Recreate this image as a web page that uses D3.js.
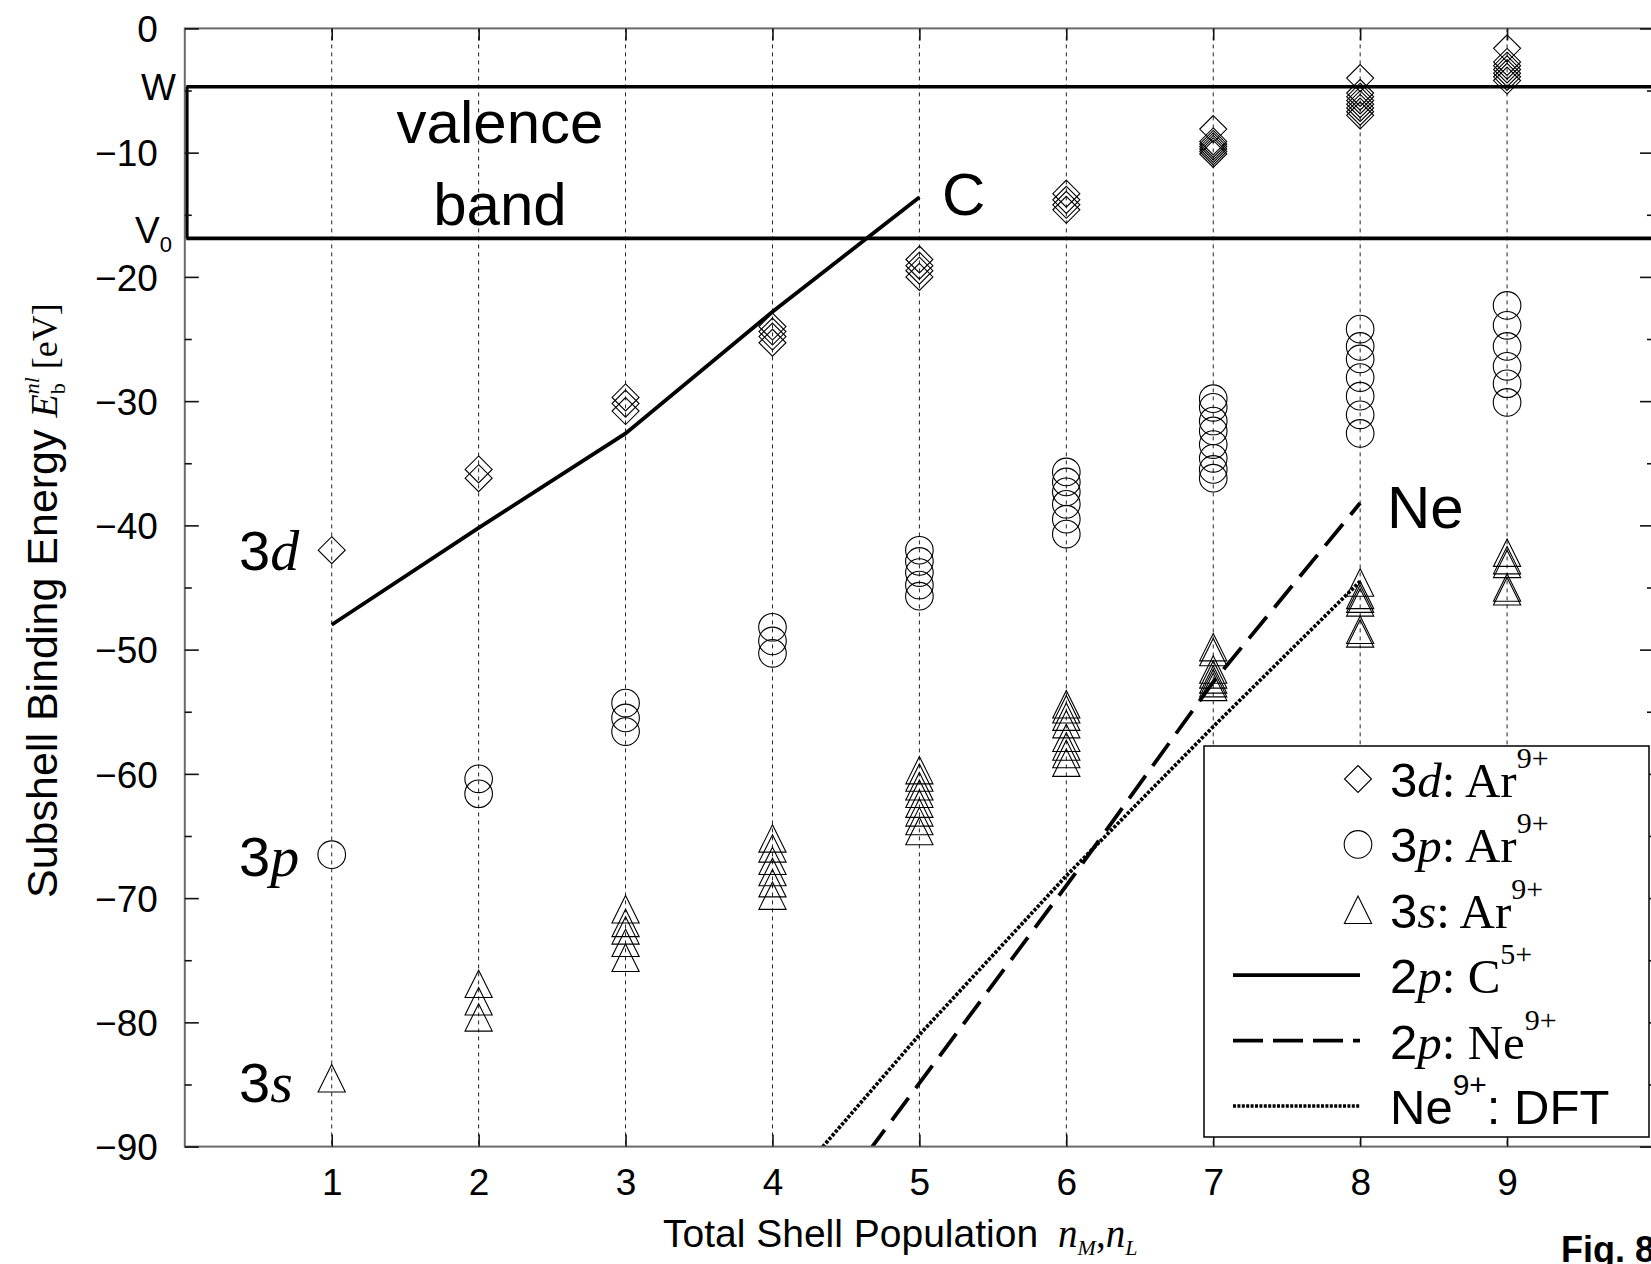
<!DOCTYPE html>
<html>
<head>
<meta charset="utf-8">
<script src="https://cdn.jsdelivr.net/npm/d3@7"></script>
<style>
  body { margin: 0; background: #fff; }
  svg { display: block; background: #fff; }
</style>
</head>
<body>
<div id="chart"></div>
<script>
// total shell population (x axis)
const shellPop = [1, 2, 3, 4, 5, 6, 7, 8, 9];

// Ar9+ subshell binding energies [eV], one list per shell population
const ar3d = [
  [-42.0],
  [-35.5, -36.2],
  [-29.7, -30.2, -30.8],
  [-24.0, -24.4, -24.8, -25.3],
  [-18.6, -19.1, -19.5, -20.0],
  [-13.3, -13.8, -14.2, -14.6],
  [-8.1, -9.1, -9.3, -9.5, -9.7, -9.9, -10.1],
  [-4.0, -5.2, -5.5, -5.8, -6.1, -6.4, -6.7, -7.0],
  [-1.6, -2.7, -3.0, -3.3, -3.6, -3.9, -4.2]
];
const ar3p = [
  [-66.5],
  [-60.4, -61.6],
  [-54.3, -55.5, -56.6],
  [-48.2, -49.3, -50.3],
  [-42.0, -42.9, -43.8, -44.8, -45.7],
  [-35.7, -36.5, -37.3, -38.3, -39.5, -40.7],
  [-29.8, -30.5, -31.6, -32.4, -33.5, -34.6, -35.5, -36.2],
  [-24.2, -25.6, -26.6, -28.1, -29.6, -31.1, -32.6],
  [-22.3, -23.9, -25.6, -27.2, -28.6, -30.1]
];
const ar3s = [
  [-84.5],
  [-76.9, -78.3, -79.6],
  [-70.9, -72.0, -72.6, -73.6, -74.8],
  [-65.2, -66.0, -67.0, -67.9, -68.8, -69.8],
  [-59.7, -60.3, -61.0, -61.6, -62.4, -63.1, -63.8, -64.6],
  [-54.4, -54.8, -55.4, -56.0, -57.1, -57.8, -58.4, -59.1],
  [-49.8, -50.2, -51.6, -52.0, -52.4, -52.7, -53.0],
  [-44.6, -45.6, -45.9, -46.2, -48.4, -48.7],
  [-42.2, -42.8, -43.1, -45.0, -45.3]
];

// 2p of C5+
const cPop = [1, 2, 3, 4, 5];
const c2p = [-48.0, -40.2, -32.6, -22.8, -13.6];

// 2p of Ne9+ and the DFT result
const nePop = [4, 5, 6, 7, 8];
const ne2p = [-100.8, -84.9, -69.0, -52.6, -38.2];
const neDft = [-94.7, -81.0, -68.2, -56.2, -44.5];

// valence band edges: W and V0
const bandW = -4.7;
const bandV0 = -16.9;

const yTicks = [0, -10, -20, -30, -40, -50, -60, -70, -80, -90];
const yMinorTicks = [-5, -15, -25, -35, -45, -55, -65, -75, -85];

const sans = "'Liberation Sans', Arial, Helvetica, sans-serif";
const serif = "'Liberation Serif', 'Times New Roman', Times, serif";

const width = 1651;
const height = 1264;

let svg = d3.select('#chart').append('svg')
  .attr('width', width)
  .attr('height', height);

const plotLeft = 184.8, plotRight = 1654, plotTop = 28.4, plotBottom = 1146.6;

const xScale = d3.scaleLinear().domain([0, 10]).range([plotLeft, plotRight]);
const yScale = d3.scaleLinear().domain([-90, 0]).range([plotBottom, plotTop]);

svg.append('defs').append('clipPath')
  .attr('id', 'plotClip')
  .append('rect')
  .attr('x', plotLeft).attr('y', plotTop)
  .attr('width', plotRight - plotLeft).attr('height', plotBottom - plotTop);

// dashed verticals at each population
svg.append('g')
  .selectAll('line')
  .data(shellPop)
  .enter()
  .append('line')
  .attr('x1', d => xScale(d)).attr('x2', d => xScale(d))
  .attr('y1', plotTop).attr('y2', plotBottom)
  .attr('stroke', '#222')
  .attr('stroke-width', 1)
  .attr('stroke-dasharray', '4,4');

// valence band box
const band = svg.append('g').attr('stroke', '#000').attr('stroke-width', 3.6).attr('fill', 'none');
band.selectAll('line.edge')
  .data([bandW, bandV0])
  .enter()
  .append('line')
  .classed('edge', true)
  .attr('x1', plotLeft + 1.5).attr('x2', plotRight)
  .attr('y1', d => yScale(d)).attr('y2', d => yScale(d));
band.append('line')
  .attr('x1', plotLeft + 2).attr('x2', plotLeft + 2)
  .attr('y1', yScale(bandW)).attr('y2', yScale(bandV0));

// markers
const diamond = 'M0,-13.5L13.5,0L0,13.5L-13.5,0Z';
const triangle = 'M0,-13.7L13.6,13.7L-13.6,13.7Z';

function flatten(series) {
  const out = [];
  series.forEach((vals, i) => vals.forEach(v => out.push({n: shellPop[i], e: v})));
  return out;
}

const pts = svg.append('g').attr('clip-path', 'url(#plotClip)')
  .attr('fill', 'none').attr('stroke', '#000').attr('stroke-width', 1.1);

pts.selectAll('path.d')
  .data(flatten(ar3d))
  .enter()
  .append('path')
  .classed('d', true)
  .attr('d', diamond)
  .attr('transform', d => `translate(${xScale(d.n)},${yScale(d.e)})`);

pts.selectAll('circle')
  .data(flatten(ar3p))
  .enter()
  .append('circle')
  .attr('r', 13.8)
  .attr('cx', d => xScale(d.n))
  .attr('cy', d => yScale(d.e));

pts.selectAll('path.s')
  .data(flatten(ar3s))
  .enter()
  .append('path')
  .classed('s', true)
  .attr('d', triangle)
  .attr('transform', d => `translate(${xScale(d.n)},${yScale(d.e)})`);

// lines
const lines = svg.append('g').attr('clip-path', 'url(#plotClip)').attr('fill', 'none').attr('stroke', '#000');
const lineGen = d3.line().x(d => xScale(d[0])).y(d => yScale(d[1]));

lines.append('path')
  .attr('d', lineGen(d3.zip(cPop, c2p)))
  .attr('stroke-width', 3.8);
lines.append('path')
  .attr('d', lineGen(d3.zip(nePop, ne2p)))
  .attr('stroke-width', 3.8)
  .attr('stroke-dasharray', '28,12');
lines.append('path')
  .attr('d', lineGen(d3.zip(nePop, neDft)))
  .attr('stroke-width', 3.7)
  .attr('stroke-dasharray', '3.2,1.6');

// frame
svg.append('rect')
  .attr('x', plotLeft).attr('y', plotTop)
  .attr('width', plotRight - plotLeft).attr('height', plotBottom - plotTop)
  .attr('fill', 'none').attr('stroke', '#6a6a6a').attr('stroke-width', 2);

// axes
function styleAxis(g) {
  g.select('.domain').remove();
  g.attr('font-size', 37).attr('font-family', sans).attr('color', '#111');
  g.selectAll('text').attr('fill', '#000');
  g.selectAll('line').attr('stroke-width', 1.6);
}

svg.append('g')
  .attr('transform', `translate(${plotLeft},0)`)
  .call(d3.axisLeft(yScale).tickValues(yTicks).tickSize(-14).tickPadding(27))
  .call(styleAxis)
  .selectAll('text').attr('dy', '0.36em');
svg.append('g')
  .attr('transform', `translate(${plotLeft},0)`)
  .call(d3.axisLeft(yScale).tickValues(yMinorTicks).tickSize(-7).tickFormat(''))
  .call(styleAxis);
svg.append('g')
  .attr('transform', `translate(${plotRight},0)`)
  .call(d3.axisRight(yScale).tickValues(yTicks).tickSize(-14).tickFormat(''))
  .call(styleAxis);
svg.append('g')
  .attr('transform', `translate(${plotRight},0)`)
  .call(d3.axisRight(yScale).tickValues(yMinorTicks).tickSize(-7).tickFormat(''))
  .call(styleAxis);
svg.append('g')
  .attr('transform', `translate(0,${plotBottom})`)
  .call(d3.axisBottom(xScale).tickValues(shellPop).tickSize(-12).tickPadding(22))
  .call(styleAxis);
svg.append('g')
  .attr('transform', `translate(0,${plotTop})`)
  .call(d3.axisTop(xScale).tickValues(shellPop).tickSize(-12).tickFormat(''))
  .call(styleAxis);

// W and V0 marks on the left
svg.append('text')
  .attr('x', 176).attr('y', yScale(bandW)).attr('dy', '0.36em')
  .attr('text-anchor', 'end')
  .attr('font-family', sans).attr('font-size', 37)
  .text('W');
const v0 = svg.append('text')
  .attr('x', 172).attr('y', yScale(bandV0) + 5)
  .attr('text-anchor', 'end')
  .attr('font-family', sans).attr('font-size', 37);
v0.append('tspan').text('V');
v0.append('tspan').attr('font-size', 22).attr('dy', 9).text('0');

// axis titles
const xTitle = svg.append('text')
  .attr('x', 663).attr('y', 1247)
  .attr('font-size', 39);
xTitle.append('tspan').attr('font-family', sans).text('Total Shell Population');
xTitle.append('tspan').attr('font-family', serif).attr('font-style', 'italic').attr('dx', 20).text('n');
xTitle.append('tspan').attr('font-family', serif).attr('font-style', 'italic').attr('font-size', 22).attr('dy', 8).text('M');
xTitle.append('tspan').attr('font-family', serif).attr('dy', -8).text(',');
xTitle.append('tspan').attr('font-family', serif).attr('font-style', 'italic').text('n');
xTitle.append('tspan').attr('font-family', serif).attr('font-style', 'italic').attr('font-size', 22).attr('dy', 8).text('L');

const yTitle = svg.append('text')
  .attr('transform', 'translate(57,898) rotate(-90)')
  .attr('font-size', 43);
yTitle.append('tspan').attr('font-family', sans).text('Subshell Binding Energy ');
yTitle.append('tspan').attr('font-family', serif).attr('font-style', 'italic').attr('font-size', 38).text('E');
yTitle.append('tspan').attr('font-family', serif).attr('font-size', 22).attr('dy', 8).text('b');
yTitle.append('tspan').attr('font-family', serif).attr('font-style', 'italic').attr('font-size', 22)
  .attr('dx', -11).attr('dy', -26).text('nl');
yTitle.append('tspan').attr('font-family', serif).attr('font-size', 36)
  .attr('dx', 8).attr('dy', 18).text('[eV]');

// annotations in the plot
svg.append('text')
  .attr('x', 500).attr('y', 143)
  .attr('text-anchor', 'middle')
  .attr('font-family', sans).attr('font-size', 60)
  .text('valence');
svg.append('text')
  .attr('x', 500).attr('y', 225)
  .attr('text-anchor', 'middle')
  .attr('font-family', sans).attr('font-size', 60)
  .text('band');
svg.append('text')
  .attr('x', 942).attr('y', 215)
  .attr('font-family', sans).attr('font-size', 60)
  .text('C');
svg.append('text')
  .attr('x', 1387).attr('y', 528)
  .attr('font-family', sans).attr('font-size', 60)
  .text('Ne');

const subshellLabels = [
  {num: '3', l: 'd', y: 570},
  {num: '3', l: 'p', y: 876},
  {num: '3', l: 's', y: 1102}
];
subshellLabels.forEach(s => {
  const t = svg.append('text').attr('x', 239).attr('y', s.y).attr('font-size', 56);
  t.append('tspan').attr('font-family', sans).text(s.num);
  t.append('tspan').attr('font-family', serif).attr('font-style', 'italic').attr('font-size', 58).text(s.l);
});

// legend
const legend = svg.append('g');
legend.append('rect')
  .attr('x', 1204).attr('y', 746)
  .attr('width', 445).attr('height', 391)
  .attr('fill', '#fff').attr('stroke', '#000').attr('stroke-width', 1.5);

const legendRows = [
  {kind: 'diamond', parts: [['3', 'sans'], ['d', 'it'], [': Ar', 'serif'], ['9+', 'supSerif']]},
  {kind: 'circle', parts: [['3', 'sans'], ['p', 'it'], [': Ar', 'serif'], ['9+', 'supSerif']]},
  {kind: 'triangle', parts: [['3', 'sans'], ['s', 'it'], [': Ar', 'serif'], ['9+', 'supSerif']]},
  {kind: 'solid', parts: [['2', 'sans'], ['p', 'it'], [': C', 'serif'], ['5+', 'supSerif']]},
  {kind: 'dashed', parts: [['2', 'sans'], ['p', 'it'], [': Ne', 'serif'], ['9+', 'supSerif']]},
  {kind: 'dotted', parts: [['Ne', 'sans'], ['9+', 'supSans'], [': DFT', 'sans']]}
];

legendRows.forEach((row, i) => {
  const cy = 779 + i * 65.4;
  const g = legend.append('g').attr('fill', 'none').attr('stroke', '#000');
  if (row.kind === 'diamond') {
    g.append('path').attr('d', diamond).attr('stroke-width', 1.1).attr('transform', `translate(1358,${cy})`);
  } else if (row.kind === 'circle') {
    g.append('circle').attr('r', 13.8).attr('cx', 1358).attr('cy', cy).attr('stroke-width', 1.1);
  } else if (row.kind === 'triangle') {
    g.append('path').attr('d', triangle).attr('stroke-width', 1.1).attr('transform', `translate(1358,${cy})`);
  } else {
    const ln = g.append('line')
      .attr('x1', 1233).attr('x2', 1360).attr('y1', cy).attr('y2', cy)
      .attr('stroke-width', 3.8);
    if (row.kind === 'dashed') ln.attr('stroke-dasharray', '30,10');
    if (row.kind === 'dotted') ln.attr('stroke-width', 3.7).attr('stroke-dasharray', '3,1.4');
  }
  const t = legend.append('text').attr('x', 1390).attr('y', cy + 18).attr('font-size', 49);
  let raised = false;
  row.parts.forEach(([txt, style]) => {
    const sp = t.append('tspan').text(txt);
    if (style === 'sans') sp.attr('font-family', sans);
    if (style === 'serif') sp.attr('font-family', serif);
    if (style === 'it') sp.attr('font-family', serif).attr('font-style', 'italic');
    if (style === 'supSerif' || style === 'supSans') {
      sp.attr('font-family', style === 'supSans' ? sans : serif).attr('font-size', 30).attr('dy', -29);
      raised = true;
    } else if (raised) {
      sp.attr('dy', 29);
      raised = false;
    }
  });
});

// figure number, cut by the page edge as in the source
svg.append('text')
  .attr('x', 1561).attr('y', 1262)
  .attr('font-family', sans).attr('font-weight', 'bold').attr('font-size', 36)
  .text('Fig. 8');
</script>
</body>
</html>
